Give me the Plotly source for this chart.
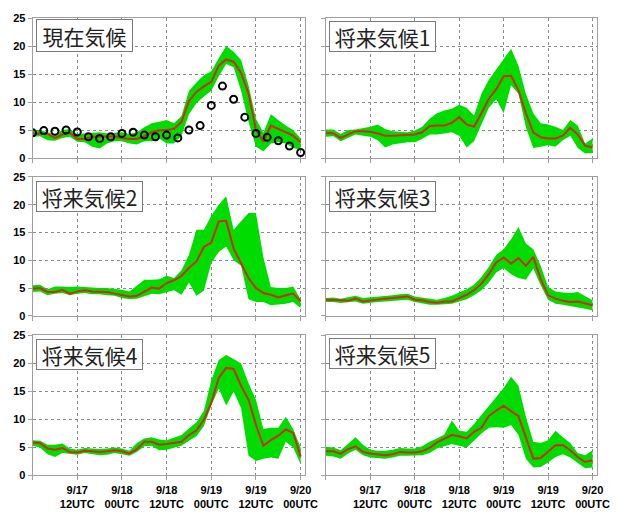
import plotly.graph_objects as go
from plotly.subplots import make_subplots

# Forecast hours from 9/17 00UTC, every 2 hours
hours = list(range(0, 73, 2))
obs_hours = list(range(0, 73, 3))

titles = ["現在気候", "将来気候1", "将来気候2", "将来気候3", "将来気候4", "将来気候5"]

# Observed values (present climate only)
obs = [4.5, 4.9, 4.8, 5.0, 4.65, 3.8, 3.5, 3.8, 4.4, 4.6, 4.1, 3.8, 4.1,
       3.6, 5.0, 5.8, 9.4, 12.85, 10.5, 7.3, 4.4, 3.7, 3.1, 2.15, 1.0]

# Ensemble mean / minimum / maximum per experiment
mean_0 = [4.4, 4.4, 4.3, 3.6, 4.2, 4.5, 3.4, 3.4, 3.8, 3.8, 3.8, 3.9, 3.6, 3.4, 3.4, 3.9,
          4.6, 4.9, 5.0, 5.2, 6.5, 10.2, 11.8, 12.8, 13.6, 16.5, 17.6, 17.2, 15.2, 11.5,
          5.0, 2.9, 5.8, 5.2, 4.5, 4.0, 2.8]
low_0 = [3.8, 3.9, 3.2, 3.1, 3.6, 3.8, 2.9, 2.8, 2.0, 1.7, 2.6, 3.0, 3.0, 2.6, 2.4, 3.0,
         3.0, 3.5, 2.6, 2.6, 4.0, 7.8, 9.8, 11.0, 12.0, 14.6, 16.8, 16.2, 12.0, 6.5,
         2.0, 1.2, 2.6, 2.8, 2.6, 1.8, 1.5]
high_0 = [5.0, 5.0, 4.6, 4.2, 5.0, 5.2, 4.3, 4.4, 4.6, 4.6, 4.4, 4.5, 4.6, 4.3, 4.6, 5.5,
          6.2, 6.5, 6.8, 6.2, 7.5, 12.0, 13.5, 14.8, 15.5, 17.8, 20.0, 19.0, 17.5, 13.0,
          7.0, 4.5, 7.8, 6.8, 5.8, 5.0, 3.5]

mean_1 = [4.5, 4.4, 3.6, 4.2, 4.8, 4.8, 4.7, 4.4, 4.0, 4.0, 4.1, 4.1, 4.2, 4.6, 5.7, 5.8,
          5.8, 6.3, 7.3, 6.0, 5.6, 8.0, 10.6, 12.3, 14.6, 14.7, 12.1, 8.0, 4.6, 3.7,
          3.5, 3.5, 4.0, 5.4, 4.2, 2.2, 1.9]
low_1 = [3.8, 3.9, 3.0, 3.6, 4.2, 4.0, 3.8, 3.2, 1.9, 2.4, 2.6, 2.8, 2.8, 3.4, 4.2, 4.2,
         4.4, 4.6, 4.0, 1.9, 3.0, 6.0, 9.0, 10.5, 8.0, 13.0, 11.5, 5.5, 1.8, 2.0,
         2.3, 2.0, 3.2, 4.0, 1.8, 0.8, 0.9]
high_1 = [5.1, 5.1, 4.3, 5.0, 5.1, 5.3, 5.6, 6.0, 5.2, 4.8, 4.7, 4.6, 4.9, 5.6, 7.0, 8.0,
          8.5, 8.8, 9.5, 9.0, 7.6, 11.5, 14.0, 15.8, 17.5, 19.5, 16.5, 11.5, 8.0, 6.2,
          6.0, 5.6, 5.0, 6.8, 5.8, 2.6, 3.5]

mean_2 = [4.9, 5.0, 4.3, 4.3, 4.7, 4.0, 4.4, 4.6, 4.4, 4.4, 4.3, 4.0, 3.7, 3.5, 3.6, 4.4,
          5.1, 4.9, 5.9, 6.4, 7.2, 8.6, 9.8, 12.4, 13.2, 17.0, 17.1, 12.1, 9.4, 6.8,
          5.0, 4.1, 3.8, 3.3, 3.7, 4.0, 2.6]
low_2 = [4.3, 4.4, 3.7, 4.0, 4.1, 3.7, 4.0, 4.1, 3.9, 3.9, 3.7, 3.6, 3.2, 3.0, 3.1, 3.6,
         4.0, 3.9, 4.2, 4.6, 3.8, 6.0, 3.6, 4.5, 9.5, 11.5, 12.5, 10.0, 9.0, 3.0,
         2.5, 2.5, 1.9, 2.0, 2.2, 2.5, 1.4]
high_2 = [5.5, 5.6, 4.8, 5.3, 5.3, 5.2, 5.3, 5.2, 5.0, 5.0, 5.0, 4.9, 4.7, 4.4, 5.5, 6.5,
          6.5, 6.6, 7.2, 6.8, 8.2, 11.0, 15.5, 15.5, 18.0, 20.0, 21.5, 15.5, 17.0, 18.5,
          18.5, 10.5, 5.2, 5.0, 5.0, 5.3, 3.0]

mean_3 = [2.9, 2.9, 2.8, 2.7, 3.1, 2.6, 2.8, 2.9, 3.1, 3.2, 3.4, 3.5, 2.9, 2.8, 2.5, 2.35,
          2.6, 2.6, 3.2, 3.8, 4.6, 5.8, 7.5, 9.6, 10.5, 9.4, 10.4, 9.0, 10.6, 6.6,
          3.7, 3.1, 2.7, 2.5, 2.6, 2.3, 1.9]
low_3 = [2.5, 2.5, 2.3, 2.4, 2.6, 2.2, 2.4, 2.5, 2.6, 2.7, 2.9, 2.9, 2.5, 2.3, 2.0, 2.0,
         2.1, 2.2, 2.6, 3.0, 3.7, 4.6, 6.0, 7.8, 8.6, 7.5, 6.8, 6.5, 8.5, 5.5,
         2.9, 2.2, 2.0, 1.8, 1.6, 1.3, 1.0]
high_3 = [3.2, 3.3, 3.1, 3.3, 3.6, 3.2, 3.3, 3.5, 3.6, 3.7, 3.9, 4.0, 3.5, 3.3, 3.0, 2.9,
          3.2, 3.6, 4.2, 4.8, 5.6, 7.0, 8.8, 11.0, 12.0, 13.8, 16.0, 13.0, 12.0, 9.0,
          5.2, 4.4, 4.2, 4.1, 4.3, 3.5, 2.8]

mean_4 = [5.9, 5.8, 4.8, 4.6, 4.9, 4.2, 4.1, 4.4, 4.3, 4.2, 4.3, 4.5, 4.3, 3.9, 4.7, 6.0,
          6.0, 5.5, 5.6, 5.8, 6.0, 7.2, 8.0, 9.9, 13.0, 17.4, 19.2, 19.0, 16.0, 13.5,
          9.0, 5.3, 6.3, 7.1, 8.2, 7.6, 3.4]
low_4 = [5.3, 5.0, 3.8, 3.3, 4.0, 3.8, 3.7, 4.0, 3.8, 3.6, 3.7, 4.0, 3.8, 3.5, 4.2, 5.2,
         5.3, 4.5, 4.6, 5.0, 5.3, 6.2, 7.0, 8.8, 12.5, 15.5, 12.5, 15.0, 12.0, 3.5,
         2.6, 3.0, 3.2, 3.0, 6.0, 5.0, 2.0]
high_4 = [6.3, 6.2, 5.5, 5.5, 5.7, 4.8, 4.6, 4.9, 4.8, 4.7, 4.8, 5.0, 4.8, 4.4, 5.8, 6.6,
          6.8, 6.4, 6.3, 6.7, 7.2, 8.4, 9.5, 11.5, 17.0, 20.6, 21.5, 20.8, 20.0, 16.5,
          13.5, 8.3, 8.5, 8.5, 10.5, 8.3, 5.0]

mean_5 = [4.3, 4.3, 3.9, 4.7, 5.2, 4.2, 3.9, 3.7, 3.6, 3.8, 4.2, 4.1, 4.1, 4.3, 4.9, 5.9,
          6.6, 7.2, 7.0, 6.6, 7.8, 8.5, 10.6, 11.6, 12.4, 11.5, 10.6, 6.8, 3.0, 3.1,
          4.2, 5.4, 5.4, 4.5, 3.3, 2.4, 2.7]
low_5 = [3.5, 3.4, 3.0, 3.9, 4.6, 3.6, 3.2, 3.1, 3.0, 3.2, 3.5, 3.5, 3.5, 3.6, 4.0, 4.8,
         5.2, 5.6, 5.3, 5.0, 6.2, 7.5, 8.5, 8.6, 8.5, 9.0, 7.2, 3.0, 1.4, 1.5,
         2.3, 3.3, 3.8, 3.2, 2.2, 1.3, 1.4]
high_5 = [5.1, 5.0, 4.5, 5.6, 6.8, 5.5, 4.6, 4.4, 4.4, 4.6, 4.9, 4.8, 4.8, 5.2, 6.0, 6.6,
          7.3, 9.8, 8.0, 7.8, 9.2, 10.8, 12.4, 13.8, 15.6, 17.6, 16.0, 10.5, 6.0, 5.8,
          6.3, 8.0, 6.8, 5.8, 4.0, 3.6, 4.5]

means = [mean_0, mean_1, mean_2, mean_3, mean_4, mean_5]
lows = [low_0, low_1, low_2, low_3, low_4, low_5]
highs = [high_0, high_1, high_2, high_3, high_4, high_5]

tick_hours = [0, 12, 24, 36, 48, 60, 72]
tick_text = ["", "9/17<br>12UTC", "9/18<br>00UTC", "9/18<br>12UTC",
             "9/19<br>00UTC", "9/19<br>12UTC", "9/20<br>00UTC"]

GREEN = "#00dc00"
RED = "#d02a10"

fig = make_subplots(rows=3, cols=2)

for i in range(6):
    r, c = i // 2 + 1, i % 2 + 1
    fig.add_trace(go.Scatter(x=hours, y=lows[i], mode="lines", line=dict(width=0, color=GREEN),
                             showlegend=False, hoverinfo="skip"), row=r, col=c)
    fig.add_trace(go.Scatter(x=hours, y=highs[i], mode="lines", line=dict(width=0, color=GREEN),
                             fill="tonexty", fillcolor=GREEN, showlegend=False), row=r, col=c)
    fig.add_trace(go.Scatter(x=hours, y=means[i], mode="lines", line=dict(width=2, color=RED),
                             showlegend=False), row=r, col=c)
    if i == 0:
        fig.add_trace(go.Scatter(x=obs_hours, y=obs, mode="markers",
                                 marker=dict(symbol="circle-open", size=7, color="black",
                                             line=dict(width=2, color="black")),
                                 showlegend=False), row=r, col=c)

x_domains = [[0.0526, 0.4921], [0.5256, 0.9629]]
y_domains = [[0.6965, 0.976], [0.3815, 0.6589], [0.063, 0.3425]]

axis_common = dict(showgrid=True, gridcolor="#8a8a8a", griddash="dot", gridwidth=1,
                   showline=True, linecolor="#a0a0a0", linewidth=1, mirror=True,
                   ticks="outside", ticklen=4, tickcolor="#a0a0a0", zeroline=False,
                   tickfont=dict(family="Liberation Sans", size=11, color="black", weight="bold"))

# title box sizes (inner width, inner height) and vertical offset from the plot top
box_w = [91, 101, 101, 101, 101, 101]
box_h = [27, 25, 25, 25, 25, 25]
box_dy = [-1, -3, -4, -4, -4, -3]

for i in range(6):
    r, c = i // 2, i % 2
    n = i + 1
    xname = "xaxis" if n == 1 else f"xaxis{n}"
    yname = "yaxis" if n == 1 else f"yaxis{n}"
    fig.layout[xname].update(domain=x_domains[c], range=[0, 73.2], tickvals=tick_hours,
                             ticktext=tick_text, showticklabels=(r == 2), **axis_common)
    fig.layout[yname].update(domain=y_domains[r], range=[0, 25], dtick=5,
                             showticklabels=(c == 0), **axis_common)
    xref = "x domain" if n == 1 else f"x{n} domain"
    yref = "y domain" if n == 1 else f"y{n} domain"
    fig.add_annotation(text=titles[i], xref=xref, yref=yref, x=0, y=1,
                       xanchor="left", yanchor="top", xshift=3.5, yshift=box_dy[i],
                       width=box_w[i], height=box_h[i], align="center", valign="middle",
                       showarrow=False, bgcolor="white", bordercolor="#7a7a7a",
                       borderwidth=1, borderpad=2,
                       font=dict(family="Noto Sans CJK JP", size=21, color="#222222"))

fig.update_layout(width=633, height=513, margin=dict(l=0, r=0, t=0, b=0),
                  paper_bgcolor="white", plot_bgcolor="white")

fig.write_html("out.html")
